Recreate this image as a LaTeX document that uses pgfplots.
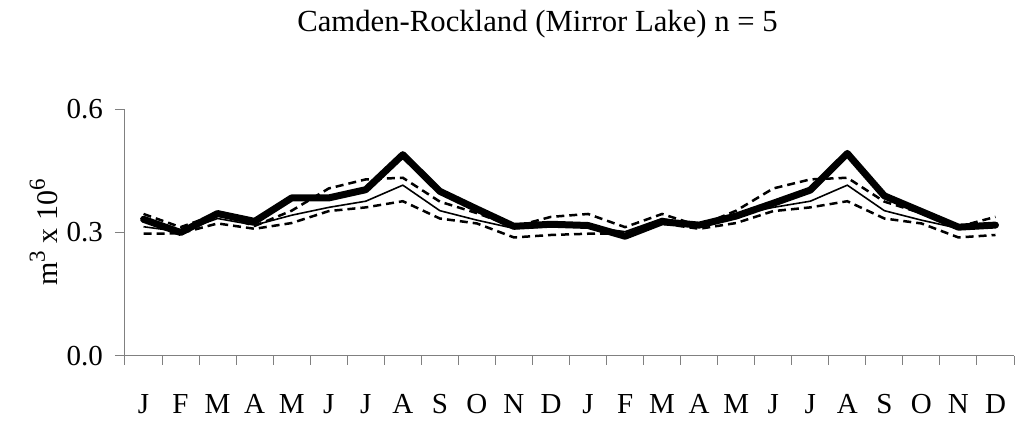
\documentclass[border=0pt]{standalone}
\usepackage{fontspec}
\setmainfont{Liberation Serif}
\usepackage{pgfplots}
\pgfplotsset{compat=1.18}
\usepackage{pgfplotstable}

% Monthly volumes (m^3 x 10^6), two consecutive years
% observed series
\pgfplotstableread{
x y
0 0.332
1 0.300
2 0.346
3 0.327
4 0.384
5 0.384
6 0.404
7 0.489
8 0.400
9 0.357
10 0.315
11 0.320
12 0.317
13 0.291
14 0.326
15 0.318
16 0.340
17 0.371
18 0.403
19 0.492
20 0.389
21 0.351
22 0.313
23 0.318
}\tabobserved

% long-term mean
\pgfplotstableread{
x y
0 0.314
1 0.302
2 0.334
3 0.318
4 0.342
5 0.361
6 0.376
7 0.415
8 0.353
9 0.330
10 0.310
11 0.314
12 0.314
13 0.302
14 0.334
15 0.318
16 0.342
17 0.361
18 0.376
19 0.415
20 0.353
21 0.330
22 0.310
23 0.314
}\tabmean

% upper bound
\pgfplotstableread{
x y
0 0.345
1 0.313
2 0.345
3 0.316
4 0.353
5 0.407
6 0.429
7 0.433
8 0.375
9 0.347
10 0.314
11 0.338
12 0.345
13 0.313
14 0.345
15 0.316
16 0.353
17 0.407
18 0.429
19 0.433
20 0.375
21 0.347
22 0.314
23 0.338
}\tabupper

% lower bound
\pgfplotstableread{
x y
0 0.297
1 0.298
2 0.322
3 0.309
4 0.323
5 0.352
6 0.361
7 0.376
8 0.334
9 0.322
10 0.288
11 0.294
12 0.297
13 0.298
14 0.322
15 0.309
16 0.323
17 0.352
18 0.361
19 0.376
20 0.334
21 0.322
22 0.288
23 0.294
}\tablower

\definecolor{axisgray}{RGB}{128,128,128}
\newcommand{\supnum}[1]{\raisebox{0.42em}{\fontsize{23}{26}\selectfont #1}}

\begin{document}
\begin{tikzpicture}
\begin{axis}[
  scale only axis,
  width=889pt, height=247pt,
  xmin=-0.5, xmax=23.5,
  ymin=0, ymax=0.6,
  axis x line=bottom, axis y line=left,
  axis line style={-, draw=axisgray, line width=1pt},
  tick align=outside,
  tick style={draw=axisgray, line width=1pt},
  major tick length=10pt,
  minor tick length=9pt,
  xtick={0,...,23},
  xticklabels={J,F,M,A,M,J,J,A,S,O,N,D,J,F,M,A,M,J,J,A,S,O,N,D},
  major x tick style={draw=none},
  minor xtick={-0.5,0.5,...,23.5},
  ytick={0,0.3,0.6},
  /pgf/number format/fixed,
  /pgf/number format/fixed zerofill,
  /pgf/number format/precision=1,
  /pgf/number format/assume math mode=true,
  xticklabel style={font=\fontsize{29}{34}\selectfont, anchor=base, inner sep=0pt, yshift=-47pt},
  yticklabel style={font=\fontsize{29}{34}\selectfont, anchor=east, inner sep=0pt, xshift=-12pt},
  ylabel={m\supnum{3} x 10\supnum{6}},
  every axis y label/.style={at={(axis description cs:0,0.5)}, xshift=-67.5pt, rotate=90, anchor=base, inner sep=0pt, font=\fontsize{30}{35}\selectfont},
  clip=false,
]
\addplot[black, line width=2.5pt, dash pattern=on 8pt off 5pt] table[x=x,y=y] {\tabupper};
\addplot[black, line width=2.5pt, dash pattern=on 8pt off 5pt] table[x=x,y=y] {\tablower};
\addplot[black, line width=1.6pt, line join=round] table[x=x,y=y] {\tabmean};
\addplot[black, line width=7pt, line join=round, line cap=round] table[x=x,y=y] {\tabobserved};
\end{axis}
\node[anchor=base, inner sep=0pt, font=\fontsize{30.7}{36}\selectfont] at (412.5pt,324.3pt) {Camden-Rockland (Mirror Lake) n = 5};
\pgfresetboundingbox
\useasboundingbox (-125pt,-66pt) rectangle (891pt,356pt);
\end{tikzpicture}
\end{document}
